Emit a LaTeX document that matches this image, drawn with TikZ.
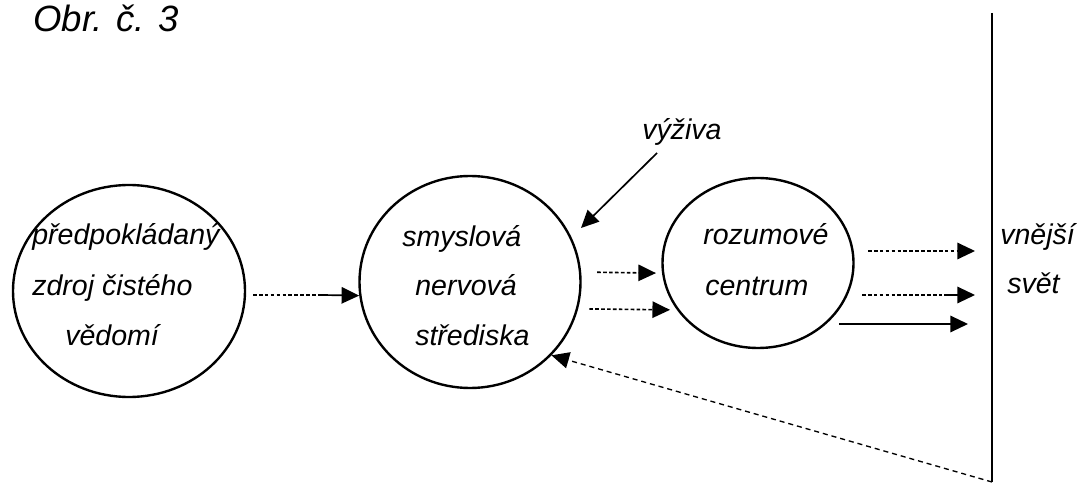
\documentclass[tikz,border=0pt]{standalone}
\usepackage{fontspec}
\setmainfont{Liberation Sans}
\usetikzlibrary{arrows.meta,shapes.geometric}

\begin{document}
\begin{tikzpicture}[
    kruh/.style={draw, ellipse, line width=1.7pt, inner sep=0pt},
    popis/.style={anchor=base west, inner sep=0pt, font=\fontsize{20.3}{24}\selectfont\itshape},
    tok/.style={-{Triangle[length=4.4mm,width=4.1mm]}, line width=1.2pt},
    carka/.style={line width=1.15pt, dash pattern=on 2.6pt off 1.6pt},
    zpet/.style={-{Triangle[length=4.4mm,width=4.1mm]}, line width=0.95pt, dash pattern=on 3.6pt off 2.8pt}
]
\useasboundingbox (0,0) rectangle (27,12.15);

\node[popis, font=\fontsize{26}{30}\selectfont\itshape] (obr) at (0.825,11.35) {Obr. č. 3};

% kruhy
\node[kruh, minimum width=5.8cm, minimum height=5.3cm] (zdroj) at (3.225,4.875) {};
\node[kruh, minimum width=5.525cm, minimum height=5.3cm] (smysl) at (11.75,5.1) {};
\node[kruh, minimum width=4.775cm, minimum height=4.25cm] (rozum) at (18.95,5.575) {};

\node[popis] (zdroj-a) at (0.8,6.025) {předpokládaný};
\node[popis] (zdroj-b) at (0.8,4.775) {zdroj čistého};
\node[popis] (zdroj-c) at (1.625,3.525) {vědomí};

\node[popis] (smysl-a) at (10.05,5.975) {smyslová};
\node[popis] (smysl-b) at (10.375,4.775) {nervová};
\node[popis] (smysl-c) at (10.375,3.525) {střediska};

\node[popis] (rozum-a) at (17.575,6.025) {rozumové};
\node[popis] (rozum-b) at (17.625,4.775) {centrum};

\node[popis] (vyziva) at (16.05,8.65) {výživa};

\node[popis] (svet-a) at (25.0,6.025) {vnější};
\node[popis] (svet-b) at (25.175,4.8) {svět};

% vnejsi stena
\coordinate (stena-h) at (24.8,11.825);
\coordinate (stena-d) at (24.8,0.1);
\draw[line width=1.8pt] (stena-h) -- (stena-d);

% volne konce sipek
\coordinate (z-zac) at (6.325,4.775);
\coordinate (z-lom) at (8.05,4.775);
\coordinate (v-zac) at (16.425,8.325);
\coordinate (v-kon) at (14.525,6.45);
\coordinate (r-zac1) at (21.7,5.875);
\coordinate (r-kon1) at (24.375,5.875);
\coordinate (r-zac2) at (21.55,4.775);
\coordinate (r-lom2) at (23.6,4.775);
\coordinate (r-kon2) at (24.375,4.775);
\coordinate (r-zac3) at (20.975,4.05);
\coordinate (r-kon3) at (24.2,4.05);

\draw[carka] (z-zac) -- (z-lom);
\draw[tok] (z-lom) -- (smysl.187);

\draw[tok] (v-zac) -- (v-kon);

\draw[tok, carka] ([xshift=4mm]smysl.5) -- ([xshift=-1.5mm]rozum.186);
\draw[tok, carka] ([xshift=2.8mm]smysl.-14) -- ([xshift=-1.7mm]rozum.210);

\draw[tok, carka] (r-zac1) -- (r-kon1);
\draw[carka] (r-zac2) -- (r-lom2);
\draw[tok] (r-lom2) -- (r-kon2);
\draw[tok] (r-zac3) -- (r-kon3);

\draw[zpet] (stena-d) -- (smysl.318);
\end{tikzpicture}
\end{document}
